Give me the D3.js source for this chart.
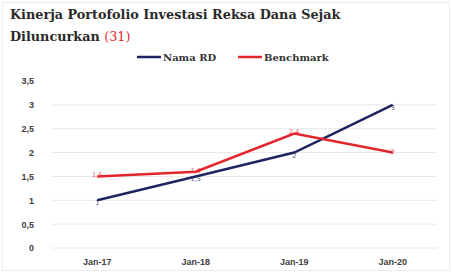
<!DOCTYPE html>
<html>
<head>
<meta charset="utf-8">
<script src="https://cdn.jsdelivr.net/npm/d3@7"></script>
<style>
  body { margin: 0; background: #fff; }
  svg { font-family: "DejaVu Sans", Verdana, sans-serif; }
</style>
</head>
<body>
<div id="root"></div>
<script>
// data
var categories = ["Jan-17", "Jan-18", "Jan-19", "Jan-20"];
var namaRD = [1, 1.5, 2, 3];
var benchmark = [1.5, 1.6, 2.4, 2];
var yTicks = [0, 0.5, 1, 1.5, 2, 2.5, 3, 3.5];
var seriesNames = ["Nama RD", "Benchmark"];

var width = 452, height = 276;
var navy = "#1f2560", red = "#e3262d";
var serif = "'DejaVu Serif', serif";

var svg = d3.select("#root").append("svg")
  .attr("width", width).attr("height", height);

// faint frame
svg.append("rect")
  .attr("x", 2.5).attr("y", 2.5).attr("width", width - 5).attr("height", height - 8)
  .attr("fill", "none").attr("stroke", "#ececec");

// title
svg.append("text").attr("x", 10).attr("y", 19)
  .style("font-family", serif).attr("font-weight", "bold")
  .attr("font-size", "12.8px").attr("fill", "#2a2a2a")
  .text("Kinerja Portofolio Investasi Reksa Dana Sejak");
var t2 = svg.append("text").attr("x", 10).attr("y", 41)
  .style("font-family", serif).attr("font-weight", "bold")
  .attr("font-size", "12.8px").attr("fill", "#2a2a2a");
t2.append("tspan").text("Diluncurkan ");
t2.append("tspan").attr("fill", red).attr("font-weight", "normal").text("(31)");

var x = d3.scaleBand().domain(categories).range([48, 442]);
var y = d3.scaleLinear().domain([0, 3.5]).range([248, 81]);

// gridlines
svg.append("g")
  .selectAll("line")
  .data(yTicks.filter(d => d < 3.5))
  .enter().append("line")
  .attr("x1", 52).attr("x2", 437)
  .attr("y1", d => y(d)).attr("y2", d => y(d))
  .attr("stroke", "#e8e8e8").attr("stroke-width", 1);

// y axis
var fmt = d => String(d).replace(".", ",");
var yAxis = svg.append("g")
  .attr("transform", "translate(34,0)")
  .call(d3.axisLeft(y).tickValues(yTicks).tickFormat(fmt).tickSize(0).tickPadding(0));
yAxis.select(".domain").remove();
yAxis.selectAll("text").attr("font-size", "9px").attr("font-weight", "bold").attr("fill", "#404040");

// x axis
var xAxis = svg.append("g")
  .attr("transform", "translate(0,255)")
  .call(d3.axisBottom(x).tickSize(0).tickPadding(4));
xAxis.select(".domain").remove();
xAxis.selectAll("text").attr("font-size", "9px").attr("font-weight", "bold").attr("fill", "#404040");

var line = d3.line()
  .x((d, i) => x(categories[i]) + x.bandwidth() / 2)
  .y(d => y(d));

var series = [
  { name: seriesNames[0], values: namaRD, color: navy, dy: 5 },
  { name: seriesNames[1], values: benchmark, color: red, dy: 1 }
];

series.forEach(function(s) {
  svg.append("path")
    .datum(s.values)
    .attr("fill", "none")
    .attr("stroke", s.color)
    .attr("stroke-width", 2.5)
    .attr("d", line);

  svg.append("g").selectAll("text")
    .data(s.values)
    .enter().append("text")
    .attr("x", (d, i) => x(categories[i]) + x.bandwidth() / 2)
    .attr("y", d => y(d) + s.dy)
    .attr("text-anchor", "middle")
    .attr("font-size", "6.5px")
    .attr("fill", s.color)
    .attr("opacity", 0.8)
    .text(d => fmt(d));
});

// legend
var legend = svg.append("g").attr("transform", "translate(137,57)");
var lx = [0, 101];
series.forEach(function(s, i) {
  var g = legend.append("g").attr("transform", "translate(" + lx[i] + ",0)");
  g.append("line").attr("x1", 0).attr("x2", 24).attr("y1", 0).attr("y2", 0)
    .attr("stroke", s.color).attr("stroke-width", 2.5);
  g.append("text").attr("x", 26).attr("y", 3.5)
    .style("font-family", serif)
    .attr("font-size", "10px").attr("font-weight", "bold").attr("fill", "#333")
    .text(s.name);
});
</script>
</body>
</html>
